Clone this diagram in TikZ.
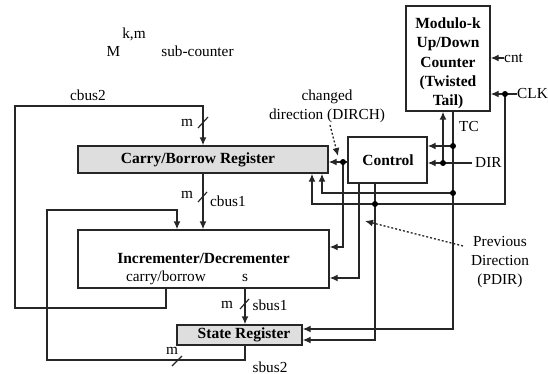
\documentclass[tikz,border=0pt]{standalone}
\usepackage{fontspec}
\setmainfont{Liberation Serif}
\usetikzlibrary{arrows.meta}
\begin{document}
\begin{tikzpicture}[x=1pt,y=-1pt,
  wire/.style={line width=1.4pt, draw=black!85},
  arr/.style={wire, -{Latex[length=8pt,width=7pt]}},
  box/.style={draw=black!85, line width=1.4pt, inner sep=0pt},
  reg/.style={box, fill=black!13},
  lbl/.style={font=\fontsize{15.3}{19.25}\selectfont, inner sep=0pt, align=center},
  blbl/.style={font=\fontsize{15.5}{19.25}\selectfont\bfseries, inner sep=0pt, align=center},
  dot/.style={circle, fill=black, inner sep=0pt, minimum size=6pt},
  busmark/.style={line width=1.2pt, draw=black!85},
  note/.style={line width=1.3pt, draw=black!85, dash pattern=on 2pt off 2pt, -{Latex[length=8pt,width=7pt]}}
]
\useasboundingbox (0,0) rectangle (548,374);

% blocks
\node[box, minimum width=84pt, minimum height=105pt] (mod) at (448,58.5) {};
\node[blbl] (modtxt) at (448,63.5) {Modulo-k\\Up/Down\\Counter\\(Twisted\\Tail)};
\node[reg, minimum width=250pt, minimum height=27pt] (cbr) at (203,159.5) {};
\node[blbl] (cbrtxt) at (198,160) {Carry/Borrow Register};
\node[box, minimum width=251pt, minimum height=58pt] (inc) at (203.5,259) {};
\node[blbl] (inctxt) at (203.5,258) {Incrementer/Decrementer};
\node[lbl] (cyl) at (166,278) {carry/borrow};
\node[lbl] (sl) at (245,278) {s};
\node[reg, minimum width=125pt, minimum height=20pt] (st) at (239.5,335) {};
\node[blbl] (sttxt) at (244,335) {State Register};
\node[box, minimum width=79pt, minimum height=46pt] (ctl) at (387.5,160) {};
\node[blbl] (ctltxt) at (388,160) {Control};

% title
\node[lbl] (tM) at (113.5,51) {M};
\node[lbl] (tkm) at (134,34) {k,m};
\node[lbl] (tsub) at (197.5,51) {sub-counter};

% cbus2: carry/borrow fed back to the register
\coordinate (cyOut) at (166,288);
\coordinate (cyLow) at (166,308);
\coordinate (cyLeft) at (15,308);
\coordinate (cyTop) at (15,106);
\coordinate (cbIn) at (203,106);
\draw[arr] (cyOut) -- (cyLow) -- (cyLeft) -- (cyTop) -- (cbIn) -- (cbIn |- cbr.north);
\draw[busmark] (198,128) -- (208,117);
\node[lbl] (m1) at (187,123) {m};
\node[lbl] (cb2) at (88,95) {cbus2};

% cbus1
\coordinate (cbOut) at (203,173);
\draw[arr] (cbOut) -- (cbOut |- inc.north);
\draw[busmark] (198,202) -- (207,192);
\node[lbl] (m2) at (187,195) {m};
\node[lbl] (cb1) at (228,201) {cbus1};

% sbus1
\coordinate (sOut) at (245,288);
\draw[arr] (sOut) -- (sOut |- st.north);
\draw[busmark] (240,309) -- (249,299);
\node[lbl] (m3) at (227,305) {m};
\node[lbl] (sb1) at (270,305) {sbus1};

% sbus2: state fed back to the incrementer
\coordinate (stOut) at (245,345);
\coordinate (stLow) at (245,360);
\coordinate (stLeft) at (47,360);
\coordinate (stTop) at (47,210);
\coordinate (stIn) at (177,210);
\draw[arr] (stOut) -- (stLow) -- (stLeft) -- (stTop) -- (stIn) -- (stIn |- inc.north);
\draw[busmark] (172,366) -- (182,356);
\node[lbl] (m4) at (172,351) {m};
\node[lbl] (sb2) at (270,367) {sbus2};

% control outputs
\coordinate (dch) at (343,162);
\coordinate (dchB) at (343,247);
\draw[arr] (ctl.west |- dch) -- (cbr.east |- dch);
\draw[arr] (dch) -- (dchB) -- (inc.east |- dchB);
\node[dot] at (dch) {};
\coordinate (c2a) at (359,183);
\coordinate (c2b) at (359,278);
\draw[arr] (c2a) -- (c2b) -- (inc.east |- c2b);
\coordinate (c3a) at (375,183);
\coordinate (c3b) at (375,340);
\draw[arr] (c3a) -- (c3b) -- (st.east |- c3b);

% CLK
\node[lbl, anchor=west] (clk) at (517,94) {CLK};
\coordinate (clkJ) at (505,94);
\coordinate (clkB) at (505,204);
\coordinate (clkL) at (312,204);
\draw[arr] (clk.west) -- (mod.east |- clk.west);
\draw[arr] (clkJ) -- (clkB) -- (clkL) -- (clkL |- cbr.south);
\node[dot] at (clkJ) {};
\node[dot] at (375,204) {};

% cnt
\node[lbl, anchor=west] (cnt) at (504,58) {cnt};
\draw[arr] (cnt.west) -- (mod.east |- cnt.west);

% TC
\coordinate (tcT) at (453,111);
\coordinate (tcB) at (453,329);
\coordinate (tcJ1) at (453,146);
\coordinate (tcJ2) at (453,193);
\coordinate (tcL) at (322,193);
\draw[arr] (tcT) -- (tcB) -- (st.east |- tcB);
\draw[arr] (tcJ1) -- (ctl.east |- tcJ1);
\draw[arr] (tcJ2) -- (tcL) -- (tcL |- cbr.south);
\node[dot] at (tcJ1) {};
\node[dot] at (tcJ2) {};
\node[lbl] (tc) at (469,127) {TC};

% DIR
\node[lbl, anchor=west] (dir) at (475,163) {DIR};
\coordinate (dirJ) at (443,163);
\draw[arr] ([xshift=-3pt]dir.west) -- (ctl.east |- dir.west);
\draw[arr] (dirJ) -- (dirJ |- mod.south);
\node[dot] at (dirJ) {};

% annotations
\node[lbl] (dirch) at (327,106) {changed\\direction (DIRCH)};
\coordinate (dchTail) at (330,125);
\coordinate (dchTip) at (338,156);
\draw[note] (dchTail) -- (dchTip);
\node[lbl] (pdir) at (500,262) {Previous\\Direction\\(PDIR)};
\coordinate (pdTail) at (463,246);
\coordinate (pdTip) at (365,221);
\draw[note] (pdTail) -- (pdTip);
\end{tikzpicture}
\end{document}
